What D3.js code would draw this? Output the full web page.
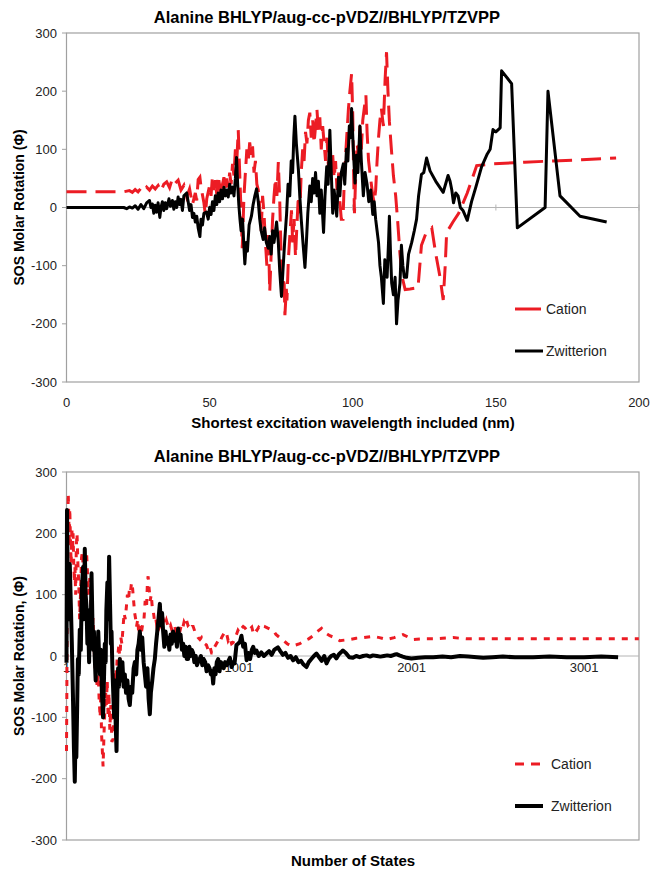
<!DOCTYPE html>
<html>
<head>
<meta charset="utf-8">
<script src="https://cdn.jsdelivr.net/npm/d3@7"></script>
<style>
  body { margin: 0; background: #fff; }
  text { font-family: "Liberation Sans", Arial, sans-serif; }
</style>
</head>
<body>
<script>
// ---- data ----
var title = "Alanine BHLYP/aug-cc-pVDZ//BHLYP/TZVPP";
var seriesNames = ["Cation", "Zwitterion"];
var yTicks = [-300, -200, -100, 0, 100, 200, 300];
var topXTicks = [0, 50, 100, 150, 200];
var bottomXTicks = [1, 1001, 2001, 3001];

// top: [shortest wavelength (nm), rotation]
var topCation = [[0,27],[20,27],[22,29],[23,26],[24,31],[25,27],[26,33],[27,28],[28,35],[29,30],[30,37],[31,32],[32,38],[33,28],[34,40],[35,44],[36,34],[37,50],[38,42],[39,47],[40,30],[41,38],[42,18],[43,32],[44,5],[45,25],[45.5,12],[46,48],[46.6,52],[47,35],[48,8],[48.5,-12],[49,15],[50,38],[50.5,20],[51,55],[51.5,30],[52,47],[52.5,22],[53,55],[53.5,38],[54,15],[54.5,40],[55,52],[55.5,28],[56,50],[56.5,35],[57,60],[57.5,40],[58,75],[58.5,55],[59,100],[59.5,80],[60,133],[60.5,60],[61,-10],[61.4,-70],[62,20],[62.5,60],[63,100],[63.5,80],[64,112],[64.5,90],[65,105],[65.5,60],[66,80],[66.5,40],[67,30],[67.5,0],[68,-40],[68.5,20],[69,-10],[69.5,-60],[70,-100],[70.5,-40],[71,-145],[71.5,-80],[72,-20],[72.5,20],[73,50],[73.5,20],[74,78],[74.5,10],[75,-90],[75.5,-150],[76,-120],[76.3,-185],[76.8,-140],[77,-160],[77.5,-90],[78,-50],[78.6,-5],[79,-60],[79.5,-20],[80,-85],[80.5,-30],[81,20],[81.5,-10],[82,60],[82.5,100],[83,80],[83.5,130],[84,110],[84.5,150],[85,163],[85.5,120],[86,150],[86.5,110],[87,140],[87.5,168],[88,130],[88.5,155],[89,100],[89.5,140],[90,110],[90.5,80],[91,120],[91.5,70],[92,95],[92.5,60],[93,90],[93.5,50],[94,80],[94.5,30],[95,60],[95.5,10],[96,-20],[96.6,-20],[97,40],[97.5,90],[98,130],[98.5,170],[99,200],[99.6,230],[100,160],[100.3,60],[100.6,-10],[101,50],[101.5,110],[102,90],[102.5,140],[103,100],[103.5,150],[104,170],[104.6,193],[105,130],[105.5,82],[106,60],[106.5,40],[107,20],[107.5,8],[108,30],[108.5,80],[109,120],[109.5,150],[110,170],[110.7,140],[111.3,220],[111.8,267],[112.3,200],[112.8,148],[113.5,100],[114.2,55],[115,20],[115.7,-24],[116.5,-80],[117.3,-120],[118.3,-141],[120,-140],[122.8,-138],[124,-65],[125.5,-45],[127.6,-35],[129,-80],[130.5,-120],[131.6,-159],[132.3,-100],[132.8,-43],[135,-25],[137,-10],[140,25],[143.3,72],[149,75],[160,78],[170,80],[180,82],[192,85]];

var topZwitterion = [[0,0],[20,0],[21,-2],[22,1],[23,-1],[24,3],[25,-3],[26,5],[27,-2],[28,8],[29,12],[29.5,0],[30,6],[30.5,-10],[31,4],[31.5,-8],[32,8],[32.6,-17],[33,0],[33.5,10],[34,-5],[34.5,8],[35,-2],[35.8,15],[36.3,2],[37,12],[37.5,-3],[38,10],[38.5,0],[39,18],[39.5,5],[40,14],[40.5,-5],[41,20],[42,25],[42.5,10],[43,-5],[43.5,5],[44,-17],[44.5,-10],[45,-25],[45.5,-15],[46,-35],[46.6,-50],[47,-20],[47.5,-30],[48,-10],[48.9,-8],[49.5,-20],[50,0],[50.5,-12],[51,10],[51.5,-5],[52,20],[52.5,5],[53,25],[53.5,10],[54,30],[54.5,15],[55,35],[55.5,20],[56,30],[56.5,18],[57,40],[57.5,25],[58,35],[58.5,20],[59,50],[59.4,86],[59.8,40],[60.2,5],[60.6,-20],[61,-40],[61.5,-20],[62,-70],[62.3,-97],[62.8,-60],[63.2,-75],[63.8,-30],[64.6,-15],[65.2,5],[65.8,20],[66.4,32],[67,10],[67.5,-20],[68,-40],[68.7,-55],[69.2,-35],[69.8,-60],[70.5,-70],[71,-50],[71.5,-80],[72,-40],[72.5,-60],[73.4,-25],[74,-60],[74.5,-110],[75.1,-153],[75.6,-110],[76.2,-60],[76.9,-10],[77.4,40],[78,20],[78.5,80],[79,60],[79.4,120],[79.8,157],[80.3,110],[81,66],[81.5,20],[82,-20],[82.6,-60],[83.3,-103],[83.8,-60],[84.3,-10],[85,37],[85.5,10],[86,50],[86.5,25],[87,60],[87.5,20],[88,45],[88.5,-10],[89,30],[89.8,-43],[90.3,20],[90.9,70],[91.4,40],[92,133],[92.5,60],[93,-10],[93.5,30],[94,5],[94.4,-15],[95,52],[95.5,20],[96,60],[96.7,75],[97.2,40],[97.8,100],[98.3,80],[98.8,140],[99.2,120],[99.6,170],[100.2,100],[100.8,42],[101.3,90],[101.8,60],[102.5,140],[103,80],[103.7,20],[104.3,60],[105,40],[105.6,10],[106.3,30],[107,-12],[107.5,10],[108,-20],[108.5,-40],[109,-60],[109.5,-100],[110,-120],[110.7,-165],[111.2,-90],[112,-120],[112.5,-60],[112.8,-15],[113.2,-80],[113.6,-130],[114.2,-150],[114.8,-120],[115.3,-200],[115.8,-160],[116.5,-130],[117,-65],[117.5,-100],[118,-120],[118.8,-120],[119.5,-80],[120.6,-60],[121.5,-40],[122.3,-20],[123,20],[124,57],[124.8,60],[125.8,85],[127,63],[129,45],[131.6,26],[133.3,55],[134,45],[134.6,30],[135.2,8],[136,25],[136.8,20],[137.6,0],[138.5,-5],[140,-22],[141.5,10],[143,35],[145,70],[147,92],[148,100],[149,134],[150,130],[151.5,137],[152,235],[155.5,213],[157.5,-35],[167.2,0],[168.2,200],[172.4,20],[179.4,-15],[188.7,-25]];

// bottom: [number of states, rotation]
var bottomCation = [[1,-155],[3,-60],[5,80],[8,200],[11,265],[14,230],[17,180],[20,240],[24,190],[28,150],[32,210],[36,170],[39,200],[43,150],[47,120],[50,145],[54,100],[58,180],[62,200],[67,150],[72,120],[77,60],[82,100],[88,160],[93,170],[98,140],[104,165],[109,120],[117,170],[122,140],[128,100],[136,127],[141,90],[146,70],[150,40],[155,62],[160,20],[166,-20],[172,10],[178,-50],[185,-30],[190,-70],[196,-100],[200,-60],[204,-126],[208,-150],[213,-180],[218,-130],[223,-90],[228,-60],[232,-80],[237,-40],[242,-100],[247,-60],[252,-120],[258,-80],[264,-140],[271,-135],[276,-80],[281,-40],[286,-20],[291,-30],[295,0],[300,5],[305,20],[310,-10],[316,30],[322,20],[329,48],[335,70],[341,60],[348,80],[354,100],[360,90],[366,110],[372,105],[378,120],[384,110],[390,90],[396,70],[402,60],[407,48],[414,60],[420,35],[428,50],[436,40],[444,55],[450,60],[457,90],[465,80],[470,120],[474,130],[480,110],[486,90],[492,100],[498,80],[503,75],[510,60],[517,65],[524,50],[531,55],[537,45],[542,48],[550,55],[557,50],[564,58],[572,50],[580,58],[588,50],[596,45],[604,50],[612,42],[619,43],[627,50],[635,40],[642,45],[650,38],[658,40],[666,50],[674,45],[682,55],[690,50],[697,58],[705,50],[712,52],[720,45],[728,48],[735,48],[745,40],[755,35],[764,30],[774,27],[783,30],[793,22],[803,20],[812,18],[822,10],[832,16],[842,5],[851,5],[860,15],[870,20],[880,25],[890,22],[900,30],[910,35],[920,40],[928,38],[938,25],[948,30],[958,20],[967,22],[976,28],[986,35],[995,42],[1005,38],[1015,45],[1025,48],[1035,46],[1045,42],[1055,40],[1065,44],[1075,47],[1083,38],[1093,45],[1105,42],[1115,47],[1125,44],[1138,49],[1151,48],[1165,46],[1180,44],[1199,42],[1215,35],[1237,30],[1260,25],[1280,20],[1305,16],[1330,18],[1353,20],[1380,25],[1405,28],[1430,33],[1455,40],[1479,45],[1500,38],[1527,33],[1555,30],[1585,25],[1615,26],[1643,27],[1680,29],[1720,30],[1777,32],[1815,30],[1855,27],[1900,30],[1951,35],[1980,31],[2010,27],[2060,28],[2126,28],[2180,29],[2242,30],[2319,28],[2400,28],[2500,28],[2700,28],[2900,28],[3100,28],[3318,28]];

var bottomZwitterion = [[1,-11],[4,238],[8,120],[14,60],[20,150],[26,85],[32,20],[38,-60],[44,-150],[49,-205],[54,-120],[58,-165],[63,-80],[67,-5],[72,-30],[78,43],[84,10],[90,110],[97,145],[102,60],[107,175],[112,100],[117,80],[122,20],[127,50],[132,-10],[136,75],[141,30],[146,135],[151,60],[156,10],[160,40],[165,-5],[170,-40],[175,20],[180,-20],[185,40],[190,0],[195,-30],[200,10],[206,-60],[213,-100],[218,-40],[223,20],[228,-10],[232,75],[238,120],[243,60],[248,162],[253,90],[258,20],[262,40],[267,-20],[272,-60],[277,-100],[282,-40],[286,-110],[291,-155],[296,-60],[300,-20],[305,-50],[310,-5],[318,-40],[325,-10],[332,-50],[339,-30],[346,-60],[354,-40],[361,-70],[368,-80],[375,-50],[382,-60],[390,-20],[397,-10],[405,-30],[412,10],[419,20],[426,40],[433,10],[440,30],[448,-10],[455,-30],[462,-50],[470,-20],[477,-70],[484,-95],[490,-60],[498,-40],[505,-20],[513,-5],[520,20],[527,40],[534,60],[542,85],[548,50],[555,70],[561,40],[568,15],[575,40],[582,20],[590,30],[597,10],[604,35],[611,20],[619,40],[626,25],[634,35],[641,15],[648,45],[655,30],[662,35],[670,10],[677,20],[684,0],[691,15],[698,-5],[706,-5],[713,15],[720,0],[728,10],[735,5],[742,-10],[750,0],[757,-15],[764,-10],[772,-5],[780,0],[788,-15],[796,-5],[805,-10],[813,-25],[822,-15],[830,-20],[838,-30],[845,-25],[851,-45],[858,-20],[865,-30],[872,-10],[880,-5],[888,-25],[896,-10],[904,-15],[912,-20],[920,-10],[930,-15],[940,-8],[948,-3],[958,-18],[967,-10],[975,-12],[986,18],[995,20],[1006,23],[1015,33],[1025,15],[1035,20],[1045,-7],[1055,5],[1065,-5],[1075,10],[1083,15],[1093,5],[1102,9],[1115,0],[1130,6],[1145,0],[1160,4],[1175,8],[1190,2],[1205,10],[1215,12],[1226,14],[1240,8],[1255,2],[1270,5],[1285,-3],[1300,0],[1314,-7],[1330,-2],[1345,-10],[1360,-8],[1375,-14],[1392,-18],[1405,-10],[1420,-5],[1435,0],[1450,4],[1465,-2],[1480,-8],[1495,0],[1508,-12],[1520,-5],[1535,0],[1550,2],[1565,-4],[1580,3],[1592,6],[1603,9],[1620,5],[1640,-2],[1661,-3],[1680,0],[1700,-2],[1720,0],[1740,1],[1760,-1],[1777,1],[1800,0],[1820,-1],[1840,0],[1860,1],[1880,0],[1900,2],[1914,3],[1930,1],[1950,-1],[1972,-3],[2000,-4],[2040,-3],[2080,-2],[2126,-2],[2180,-1],[2230,-2],[2281,0],[2330,-1],[2380,-2],[2416,-3],[2470,-2],[2530,-1],[2600,-2],[2705,-2],[2800,-1],[2900,-2],[3000,-2],[3100,-1],[3198,-2]];

var red = "#ec1c24";

var svg = d3.select("body").append("svg")
    .attr("width", 650)
    .attr("height", 869);

function panel(p) {
  var x = d3.scaleLinear().domain(p.xDomain).range([66.5, 639]);
  var y = d3.scaleLinear().domain([-300, 300]).range([p.bottom, p.top]);
  var g = svg.append("g");

  // frame
  g.append("rect")
      .attr("x", 66.5).attr("y", p.top)
      .attr("width", 639 - 66.5).attr("height", p.bottom - p.top)
      .attr("fill", "none").attr("stroke", "#a0a0a0").attr("stroke-width", 1.2);

  // zero line
  g.append("line")
      .attr("x1", 66.5).attr("x2", 639)
      .attr("y1", y(0)).attr("y2", y(0))
      .attr("stroke", "#b4b4b4").attr("stroke-width", 1);

  // y ticks + labels
  yTicks.forEach(function(v) {
    g.append("line")
        .attr("x1", 62).attr("x2", 66.5)
        .attr("y1", y(v)).attr("y2", y(v))
        .attr("stroke", "#a0a0a0");
    g.append("text")
        .attr("x", 57).attr("y", y(v)).attr("dy", "0.35em")
        .attr("text-anchor", "end")
        .attr("font-size", 13).attr("fill", "#222")
        .text(v);
  });

  // x tick labels
  p.xTicks.forEach(function(v) {
    if (p.zeroTicks) {
      g.append("line")
          .attr("x1", x(v)).attr("x2", x(v))
          .attr("y1", y(0) - 3).attr("y2", y(0) + 3)
          .attr("stroke", "#b4b4b4");
    }
    g.append("text")
        .attr("x", x(v)).attr("y", p.xLabelY)
        .attr("text-anchor", "middle")
        .attr("font-size", 13).attr("fill", "#222")
        .text(v);
  });

  // titles
  g.append("text")
      .attr("x", 327).attr("y", p.top - 10)
      .attr("text-anchor", "middle")
      .attr("font-size", 16.5).attr("font-weight", "bold")
      .text(title);
  g.append("text")
      .attr("transform", "translate(24," + ((p.top + p.bottom) / 2) + ") rotate(-90)")
      .attr("text-anchor", "middle")
      .attr("font-size", 14).attr("font-weight", "bold")
      .text(p.yTitle);
  g.append("text")
      .attr("x", 353).attr("y", p.xTitleY)
      .attr("text-anchor", "middle")
      .attr("font-size", 15).attr("font-weight", "bold")
      .text(p.xTitle);

  var line = d3.line()
      .x(function(d) { return x(d[0]); })
      .y(function(d) { return y(d[1]); });

  g.append("path")
      .datum(p.cation)
      .attr("d", line)
      .attr("fill", "none").attr("stroke", red)
      .attr("stroke-width", p.redWidth)
      .attr("stroke-dasharray", p.redDash);

  g.append("path")
      .datum(p.zwitterion)
      .attr("d", line)
      .attr("fill", "none").attr("stroke", "#000")
      .attr("stroke-width", p.blackWidth)
      .attr("stroke-linejoin", "round");

  // legend
  var ly = [p.legendY, p.legendY + 42];
  g.append("line")
      .attr("x1", 515).attr("x2", 541).attr("y1", ly[0]).attr("y2", ly[0])
      .attr("stroke", red).attr("stroke-width", p.redWidth)
      .attr("stroke-dasharray", p.legendDash);
  g.append("line")
      .attr("x1", 515).attr("x2", 543).attr("y1", ly[1]).attr("y2", ly[1])
      .attr("stroke", "#000").attr("stroke-width", p.blackWidth);
  seriesNames.forEach(function(n, i) {
    g.append("text")
        .attr("x", p.legendTextX).attr("y", ly[i]).attr("dy", "0.35em")
        .attr("font-size", 14).attr("fill", "#222")
        .text(n);
  });
}

panel({
  xDomain: [0, 200], top: 33, bottom: 382,
  xTicks: topXTicks, zeroTicks: true, xLabelY: 407,
  yTitle: "SOS Molar Rotation (\u03A6)",
  xTitle: "Shortest excitation wavelength included (nm)", xTitleY: 428,
  cation: topCation, zwitterion: topZwitterion,
  redWidth: 3, redDash: "20,9", blackWidth: 3,
  legendY: 309, legendDash: null, legendTextX: 546
});

panel({
  xDomain: [1, 3319], top: 472, bottom: 840,
  xTicks: bottomXTicks, zeroTicks: false, xLabelY: 672,
  yTitle: "SOS Molar Rotation, (\u03A6)",
  xTitle: "Number of States", xTitleY: 866,
  cation: bottomCation, zwitterion: bottomZwitterion,
  redWidth: 3, redDash: "6,7", blackWidth: 4,
  legendY: 764, legendDash: "9,7", legendTextX: 551
});
</script>
</body>
</html>
